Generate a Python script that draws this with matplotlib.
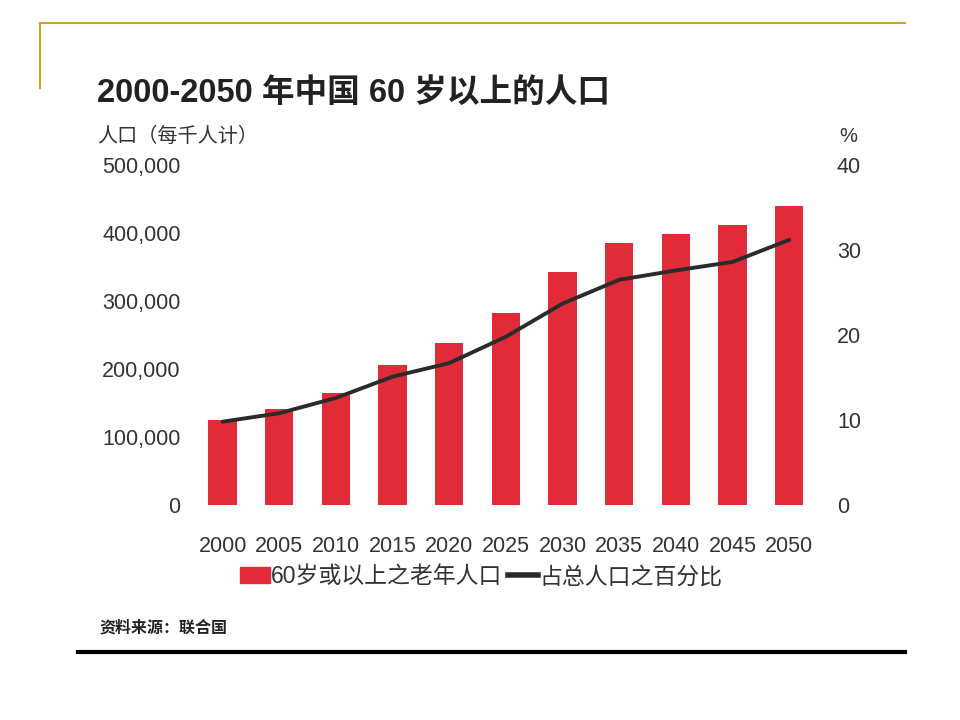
import matplotlib.pyplot as plt
from matplotlib.lines import Line2D
from matplotlib.patches import Patch

plt.rcParams['font.family'] = ['Liberation Sans', 'Noto Sans CJK SC', 'DejaVu Sans']

# data
years = ['2000', '2005', '2010', '2015', '2020', '2025', '2030', '2035', '2040', '2045', '2050']
elderly_pop = [125000, 141000, 165000, 206000, 238000, 282000, 343000, 385000, 398000, 412000, 440000]
share_pct = [9.8, 10.8, 12.6, 15.1, 16.7, 19.8, 23.7, 26.5, 27.6, 28.6, 31.2]

bar_color = '#e12b38'
line_color = '#2b2b2b'
text_color = '#333333'

fig = plt.figure(figsize=(9.6, 7.2), dpi=100)
ax = fig.add_axes([0.2083, 0.2986, 0.6375, 0.4722])
x = list(range(len(years)))
ax.bar(x, elderly_pop, width=0.5, color=bar_color, zorder=2)
ax.set_xlim(-0.4, len(years) - 0.6)
ax.set_ylim(0, 500000)
ax.set_yticks([0, 100000, 200000, 300000, 400000, 500000])
ax.set_yticklabels(['0', '100,000', '200,000', '300,000', '400,000', '500,000'])
ax.set_xticks(x)
ax.set_xticklabels(years)
ax.tick_params(axis='both', length=0, labelsize=15.5, labelcolor=text_color)
ax.tick_params(axis='y', pad=14)
ax.tick_params(axis='x', pad=22)
for s in ax.spines.values():
    s.set_visible(False)

ax2 = ax.twinx()
ax2.plot(x, share_pct, color=line_color, lw=2.8, solid_joinstyle='round',
         solid_capstyle='round', zorder=3)
ax2.set_ylim(0, 40)
ax2.set_yticks([0, 10, 20, 30, 40])
ax2.tick_params(axis='y', length=0, labelsize=15.5, labelcolor=text_color, pad=18)
for s in ax2.spines.values():
    s.set_visible(False)

fig.text(0.101, 0.87, '2000-2050 年中国 60 岁以上的人口', fontsize=23.5,
         fontweight='bold', color='#222222', va='center')
fig.text(0.101, 0.81, '人口（每千人计）', fontsize=14.5, color=text_color, va='center')
fig.text(0.893, 0.81, '%', fontsize=14.5, color=text_color, va='center', ha='right')
fig.text(0.104, 0.128, '资料来源：联合国', fontsize=11.5, fontweight='bold',
         color='#222222', va='center')

handles = [Patch(color=bar_color), Line2D([], [], color=line_color, lw=4)]
fig.legend(handles, ['60岁或以上之老年人口', '占总人口之百分比'], loc='center',
           bbox_to_anchor=(0.501, 0.199), ncol=2, frameon=False, fontsize=16.5,
           handlelength=1.3, handletextpad=0.05, columnspacing=0.25,
           labelcolor=text_color)

# slide decorations
fig.add_artist(Line2D([40 / 960, 905 / 960], [1 - 23 / 720, 1 - 23 / 720],
                      color='#d1a421', lw=1.5))
fig.add_artist(Line2D([40 / 960, 40 / 960], [1 - 23 / 720, 1 - 88 / 720],
                      color='#d1a421', lw=1.5))
fig.add_artist(Line2D([78 / 960, 905 / 960], [1 - 652 / 720, 1 - 652 / 720],
                      color='black', lw=3))

fig.savefig('out.png', dpi=100)
